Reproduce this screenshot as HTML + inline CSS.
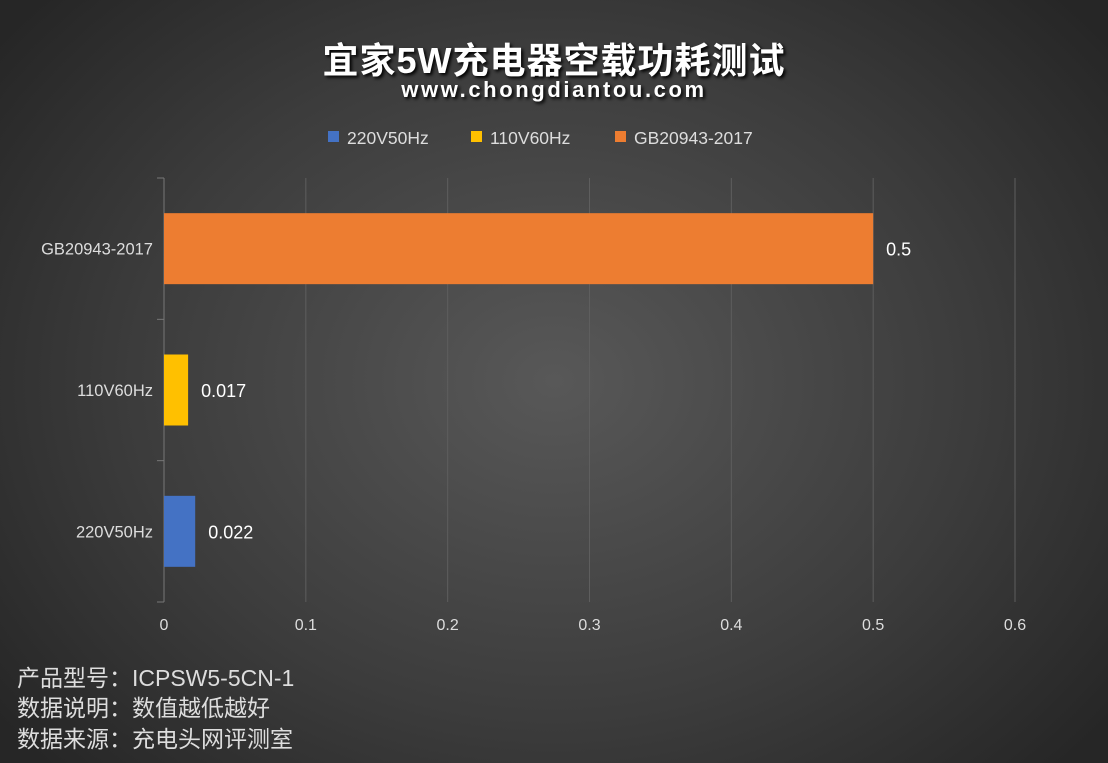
<!DOCTYPE html>
<html><head><meta charset="utf-8"><style>
html,body{margin:0;padding:0;}
body{width:1108px;height:763px;overflow:hidden;background:radial-gradient(ellipse 700px 560px at 554px 381px,#585858 0%,#3c3c3c 60%,#262626 100%);font-family:"Liberation Sans","Noto Sans CJK SC",sans-serif;position:relative;}
.t{position:absolute;color:#fff;white-space:nowrap;}
</style></head><body>
<div class="t" style="left:0;width:1108px;text-align:center;top:32px;font-size:36px;font-weight:bold;letter-spacing:1px;text-shadow:2px 2px 3px #000;">宜家5W充电器空载功耗测试</div>
<div class="t" style="left:0;width:1108px;text-align:center;top:77px;font-size:22px;font-weight:bold;letter-spacing:2.6px;text-shadow:2px 2px 3px #000;">www.chongdiantou.com</div>
<svg id="c" width="1108" height="763" style="position:absolute;left:0;top:0"></svg>
<div class="t" style="left:17px;top:659px;font-size:23px;color:#ddd;">产品型号：ICPSW5-5CN-1</div>
<div class="t" style="left:17px;top:689px;font-size:23px;color:#ddd;">数据说明：数值越低越好</div>
<div class="t" style="left:17px;top:720px;font-size:23px;color:#ddd;">数据来源：充电头网评测室</div>
<script>
const categories=["220V50Hz","110V60Hz","GB20943-2017"];
const values=[0.022,0.017,0.5];
const labels=["0.022","0.017","0.5"];
const colors=["#4472c4","#ffc000","#ed7d31"];
const ticks=[0,0.1,0.2,0.3,0.4,0.5,0.6];
const NS="http://www.w3.org/2000/svg";
const svg=document.getElementById('c');
const x0=164,x1=1015,yTop=178,yBot=602,xMax=0.6;
const xs=v=>x0+(x1-x0)*v/xMax;
const band=(yBot-yTop)/categories.length;
const yc=i=>yBot-band*(i+0.5);
function mk(t,a){const e=document.createElementNS(NS,t);for(const k in a)e.setAttribute(k,a[k]);svg.appendChild(e);return e;}
ticks.forEach(t=>{
 const g=mk('line',{x1:xs(t),x2:xs(t),y1:yTop,y2:yBot,stroke:t===0?'#777':'#5e5e5e','stroke-width':1});
 
 
 const l=mk('text',{x:xs(t),y:630,fill:'#ddd','font-size':16,'text-anchor':'middle','font-family':'Liberation Sans, sans-serif'});
 l.textContent=t;
 
 
});
for(let i=0;i<=categories.length;i++){
 const tk=mk('line',{x1:157,x2:164,y1:yBot-band*i,y2:yBot-band*i,stroke:'#777'});
 
 
}
categories.forEach((c,i)=>{
 const y=yc(i),h=71;
 const r=mk('rect',{x:x0,y:y-h/2,width:xs(values[i])-x0,height:h,fill:colors[i]});
 
 
 const v=mk('text',{x:xs(values[i])+13,y:y+7,fill:'#fff','font-size':18,'font-family':'Liberation Sans, sans-serif'});
 v.textContent=labels[i];
 
 
 const cl=mk('text',{x:153,y:y+6,fill:'#ddd','font-size':16.5,'text-anchor':'end','font-family':'Liberation Sans, sans-serif'});
 cl.textContent=c;
 
 
});
const lx=[328,471,615];
categories.forEach((c,i)=>{
 const r=mk('rect',{x:lx[i],y:131,width:11,height:11,fill:colors[i]});
 
 
 const t=mk('text',{x:lx[i]+19,y:144,fill:'#ddd','font-size':17.5,'font-family':'Liberation Sans, sans-serif'});
 t.textContent=c;
 
 
});
</script>
</body></html>
